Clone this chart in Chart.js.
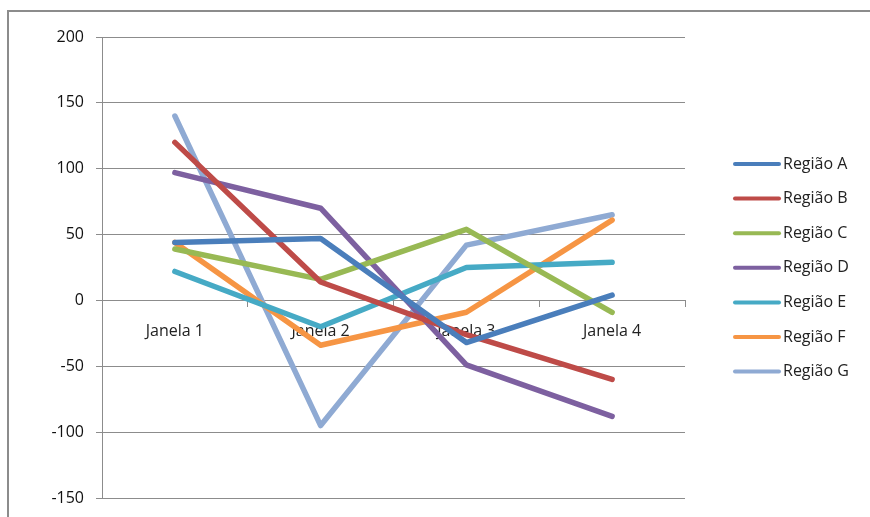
<!DOCTYPE html>
<html>
<head>
<meta charset="utf-8">
<script src="https://cdn.jsdelivr.net/npm/chart.js@4.4.1/dist/chart.umd.min.js"></script>
<style>
  html, body { margin: 0; padding: 0; background: #fff; }
  #wrap { position: relative; width: 870px; height: 517px; overflow: hidden; }
  #frame { position: absolute; left: 7px; top: 10px; width: 1000px; height: 700px;
           border-top: 2px solid #8c8c8c; border-left: 2px solid #8c8c8c; box-sizing: border-box; }
  canvas { position: absolute; left: 0; top: 0; }
</style>
</head>
<body>
<div id="wrap">
  <div id="frame"></div>
  <canvas id="c" width="870" height="517"></canvas>
</div>
<script>
// Janelas de medição
const categories = ['Janela 1', 'Janela 2', 'Janela 3', 'Janela 4'];

// Valores por região
const regiaoA = [44, 47, -32, 4];
const regiaoB = [120, 14, -26, -60];
const regiaoC = [39, 16, 54, -9];
const regiaoD = [97, 70, -49, -88];
const regiaoE = [22, -20, 25, 29];
const regiaoF = [44, -34, -9, 61];
const regiaoG = [140, -95, 42, 65];

const seriesNames = ['Região A', 'Região B', 'Região C', 'Região D', 'Região E', 'Região F', 'Região G'];
const seriesValues = [regiaoA, regiaoB, regiaoC, regiaoD, regiaoE, regiaoF, regiaoG];
const seriesColors = ['#4A7EBB', '#BE4B48', '#98B954', '#7D60A0', '#46AAC5', '#F69544', '#8FAAD3'];

// Eixo vertical
const yMin = -150, yMax = 200, yStep = 50;

const FONT = '"Open Sans", Lato, sans-serif';

const datasets = seriesNames.map((name, i) => ({
  label: name,
  data: seriesValues[i],
  borderColor: seriesColors[i],
  backgroundColor: seriesColors[i],
  borderWidth: 5.5,
  pointRadius: 0,
  tension: 0,
  borderCapStyle: 'round',
  borderJoinStyle: 'round',
  fill: false
}));

// Legenda à direita, desenhada a partir dos próprios datasets
const sideLegend = {
  id: 'sideLegend',
  afterDraw(chart) {
    const ctx = chart.ctx;
    const x0 = 735, x1 = 779, tx = 783, y0 = 164, dy = 34.6;
    ctx.save();
    ctx.font = '16px ' + FONT;
    ctx.textBaseline = 'middle';
    chart.data.datasets.forEach((ds, i) => {
      const y = y0 + i * dy;
      ctx.strokeStyle = ds.borderColor;
      ctx.lineWidth = 4;
      ctx.lineCap = 'round';
      ctx.beginPath();
      ctx.moveTo(x0, y);
      ctx.lineTo(x1, y);
      ctx.stroke();
      ctx.fillStyle = '#222';
      ctx.fillText(ds.label, tx, y);
    });
    ctx.restore();
  }
};

new Chart(document.getElementById('c'), {
  type: 'line',
  data: { labels: categories, datasets },
  options: {
    responsive: false,
    animation: false,
    layout: { padding: { left: 0, right: 185, top: 37, bottom: 19 } },
    plugins: { legend: { display: false }, tooltip: { enabled: false } },
    scales: {
      x: {
        type: 'category',
        position: { y: 0 },
        offset: true,
        afterFit(scale) { scale.paddingTop = 0; scale.paddingBottom = 0; scale.paddingLeft = 0; scale.paddingRight = 0; },
        grid: { drawOnChartArea: false, offset: true, tickLength: 6, color: '#8c8c8c', lineWidth: 1 },
        border: { color: '#8c8c8c', width: 1 },
        ticks: { color: '#222', font: { family: FONT, size: 16 }, padding: 15, maxRotation: 0 }
      },
      y: {
        min: yMin, max: yMax,
        afterFit(scale) { scale.width = 102; scale.paddingTop = 0; scale.paddingBottom = 0; },
        ticks: { stepSize: yStep, color: '#111', font: { family: FONT, size: 16 }, padding: 12 },
        grid: { color: '#8c8c8c', lineWidth: 1, tickLength: 6 },
        border: { color: '#8c8c8c', width: 1 }
      }
    }
  },
  plugins: [sideLegend]
});
</script>
</body>
</html>
